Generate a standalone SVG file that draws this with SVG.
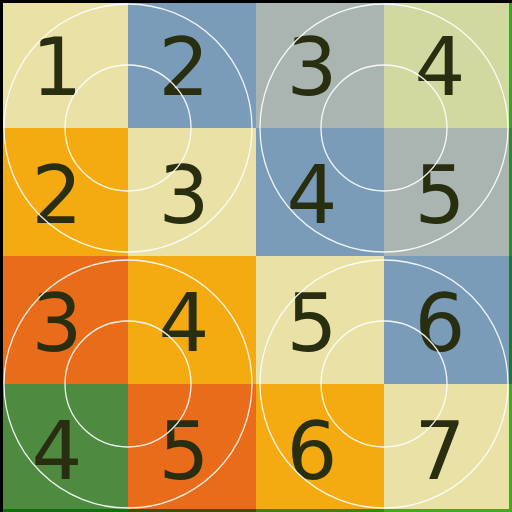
<svg xmlns="http://www.w3.org/2000/svg" width="512" height="512" viewBox="0 0 512 512">
<style>
.c{stroke:none}
.pale{fill:#e9e1a5}.blue{fill:#7a9cb8}.gray{fill:#aab4b0}.pg{fill:#d1d9a0}
.yo{fill:#f4ab12}.or{fill:#e86c1a}.gr{fill:#4e8a40}
text{font-family:"DejaVu Sans","Liberation Sans",sans-serif;font-size:80px;fill:#2a2e10;text-anchor:middle}
.ring{fill:none;stroke:#ffffff;stroke-width:1.3;opacity:0.9}
</style>
<rect width="512" height="512" fill="#000"/>
<g id="cells">
<rect class="c pale" x="0" y="0" width="128" height="128"/>
<rect class="c blue" x="128" y="0" width="128" height="128"/>
<rect class="c gray" x="256" y="0" width="128" height="128"/>
<rect class="c pg" x="384" y="0" width="128" height="128"/>
<rect class="c yo" x="0" y="128" width="128" height="128"/>
<rect class="c pale" x="128" y="128" width="128" height="128"/>
<rect class="c blue" x="256" y="128" width="128" height="128"/>
<rect class="c gray" x="384" y="128" width="128" height="128"/>
<rect class="c or" x="0" y="256" width="128" height="128"/>
<rect class="c yo" x="128" y="256" width="128" height="128"/>
<rect class="c pale" x="256" y="256" width="128" height="128"/>
<rect class="c blue" x="384" y="256" width="128" height="128"/>
<rect class="c gr" x="0" y="384" width="128" height="128"/>
<rect class="c or" x="128" y="384" width="128" height="128"/>
<rect class="c yo" x="256" y="384" width="128" height="128"/>
<rect class="c pale" x="384" y="384" width="128" height="128"/>
</g>
<g id="numbers">
<text x="57" y="95">1</text><text x="184" y="95">2</text><text x="312" y="95">3</text><text x="440" y="95">4</text>
<text x="57" y="223">2</text><text x="184" y="223">3</text><text x="312" y="223">4</text><text x="440" y="223">5</text>
<text x="57" y="351">3</text><text x="184" y="351">4</text><text x="312" y="351">5</text><text x="440" y="351">6</text>
<text x="57" y="479">4</text><text x="184" y="479">5</text><text x="312" y="479">6</text><text x="440" y="479">7</text>
</g>
<g id="rings">
<circle class="ring" cx="128" cy="128" r="124"/><circle class="ring" cx="128" cy="128" r="63"/>
<circle class="ring" cx="384" cy="128" r="124"/><circle class="ring" cx="384" cy="128" r="63"/>
<circle class="ring" cx="128" cy="384" r="124"/><circle class="ring" cx="128" cy="384" r="63"/>
<circle class="ring" cx="384" cy="384" r="124"/><circle class="ring" cx="384" cy="384" r="63"/>
</g>
<g id="frame">
<rect x="0" y="0" width="512" height="3" fill="#000"/>
<rect x="0" y="0" width="3" height="512" fill="#000"/>
<rect x="509" y="0" width="3" height="512" fill="#33cc33" style="mix-blend-mode:multiply"/>
<rect x="3" y="509" width="506" height="3" fill="#33cc33" style="mix-blend-mode:multiply"/>
</g>
</svg>
